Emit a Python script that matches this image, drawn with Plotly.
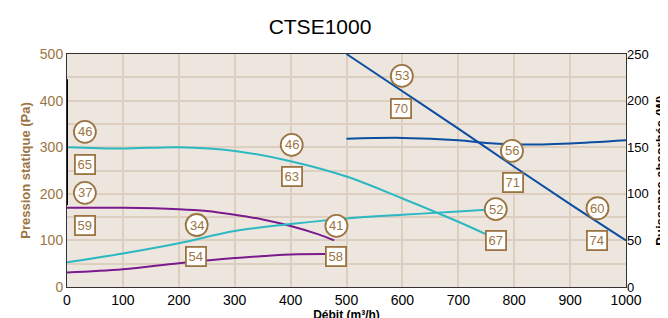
import plotly.graph_objects as go

# --- data ---
cyan_p_x = [0, 100, 200, 300, 400, 500, 600, 700, 750]
cyan_p_y = [300, 297, 300, 292, 270, 237, 190, 140, 113]
cyan_w_x = [0, 100, 200, 300, 400, 500, 600, 700, 750]
cyan_w_y = [26.5, 36, 47, 60, 67.5, 73.5, 77.5, 81, 83]

purple_p_x = [0, 100, 200, 250, 300, 350, 400, 450, 478]
purple_p_y = [170, 170, 167, 163, 155, 145, 131, 113, 100]
purple_w_x = [0, 100, 200, 300, 400, 478]
purple_w_y = [15.5, 19, 25.5, 31, 35, 35.5]

blue_p_x = [500, 600, 700, 800, 900, 1000]
blue_p_y = [500, 420, 340, 258, 178, 100]
blue_w_x = [500, 600, 700, 750, 800, 850, 900, 1000]
blue_w_y = [159, 160, 157.5, 154.5, 153, 153, 154, 157.5]

circle_labels = ["46", "37", "34", "46", "41", "53", "56", "52", "60"]
circle_x = [32, 32, 232, 402, 482, 599, 796, 767, 949]
circle_y = [333, 202, 133, 305, 131, 453, 292, 167, 169]

square_labels = ["65", "59", "54", "63", "58", "70", "71", "67", "74"]
square_x = [32, 32, 231, 402, 481, 597, 797, 767, 949]
square_y = [262, 133, 66, 237, 65, 383, 225, 99, 99]

x_ticks = [0, 100, 200, 300, 400, 500, 600, 700, 800, 900, 1000]
y_ticks = [0, 100, 200, 300, 400, 500]
y2_ticks = [0, 50, 100, 150, 200, 250]

CYAN = "#2cb8c2"
PURPLE = "#7a1a8c"
BLUE = "#0b4ea2"
BROWN = "#9b7442"
GRID = "#dccfbf"

fig = go.Figure()
line_kw = dict(mode="lines", line_shape="spline", showlegend=False, hoverinfo="skip")
fig.add_trace(go.Scatter(x=cyan_p_x, y=cyan_p_y, line=dict(color=CYAN, width=2), **line_kw))
fig.add_trace(go.Scatter(x=purple_p_x, y=purple_p_y, line=dict(color=PURPLE, width=2), **line_kw))
fig.add_trace(go.Scatter(x=blue_p_x, y=blue_p_y, line=dict(color=BLUE, width=2), **line_kw))
fig.add_trace(go.Scatter(x=cyan_w_x, y=cyan_w_y, yaxis="y2", line=dict(color=CYAN, width=2), **line_kw))
fig.add_trace(go.Scatter(x=purple_w_x, y=purple_w_y, yaxis="y2", line=dict(color=PURPLE, width=2), **line_kw))
fig.add_trace(go.Scatter(x=blue_w_x, y=blue_w_y, yaxis="y2", line=dict(color=BLUE, width=2), **line_kw))

shapes = []
annotations = []
# thick black segment on the left axis
shapes.append(dict(type="line", xref="x", yref="y", x0=0, x1=0, y0=176, y1=446,
                   line=dict(color="black", width=2), layer="above"))
for lab, cx, cy in zip(circle_labels, circle_x, circle_y):
    shapes.append(dict(type="circle", xref="x", yref="y", xsizemode="pixel", ysizemode="pixel",
                       xanchor=cx, yanchor=cy, x0=-11, x1=11, y0=-11, y1=11,
                       fillcolor="white", line=dict(color=BROWN, width=1.8), layer="above"))
    annotations.append(dict(x=cx, y=cy, xref="x", yref="y", text=lab, showarrow=False,
                            font=dict(color=BROWN, size=13, family="Liberation Sans, Arial")))
for lab, sx, sy in zip(square_labels, square_x, square_y):
    annotations.append(dict(x=sx, y=sy, xref="x", yref="y", text=lab, showarrow=False,
                            font=dict(color=BROWN, size=13, family="Liberation Sans, Arial"),
                            bgcolor="white", bordercolor=BROWN, borderwidth=1.8,
                            width=18, height=17, borderpad=0))

fig.update_layout(
    width=668, height=318,
    margin=dict(l=59, r=50, t=46, b=39),
    paper_bgcolor="white",
    plot_bgcolor="#ede6df",
    font=dict(family="Liberation Sans, Arial", size=13, color="black"),
    title=dict(text="CTSE1000", x=312 / 668, xanchor="center", xref="container",
               y=1 - 19 / 318, yanchor="middle", yref="container",
               font=dict(size=21, color="black")),
    shapes=shapes,
    annotations=annotations,
    xaxis=dict(range=[0, 1000], tickvals=x_ticks, ticks="", showgrid=True, gridcolor=GRID, gridwidth=2,
               zeroline=False, showline=True, linecolor="#333", linewidth=1, mirror=True,
               tickfont=dict(size=14, color="black", family="Liberation Sans, Arial"),
               title=dict(text="Débit (m³/h)", font=dict(size=12, weight="bold"), standoff=2),
               automargin=False),
    yaxis=dict(range=[0, 500], tickvals=y_ticks, ticks="", showgrid=True, gridcolor=GRID, gridwidth=2,
               minor=dict(dtick=50, tick0=0, showgrid=True, gridcolor=GRID, gridwidth=2),
               zeroline=False, showline=True, linecolor="#333", linewidth=1, mirror=True,
               tickfont=dict(size=14, color=BROWN),
               title=dict(text="Pression statique (Pa)", font=dict(size=13, color=BROWN, weight="bold"),
                          standoff=6),
               automargin=False),
    yaxis2=dict(range=[0, 250], tickvals=y2_ticks, overlaying="y", side="right", ticks="",
                showgrid=False, zeroline=False, showline=False,
                tickfont=dict(size=13, color="black"),
                title=dict(text="Puissance absorbée (W)", font=dict(size=13, weight="bold"), standoff=8),
                automargin=False),
)

fig.write_html("out.html")
